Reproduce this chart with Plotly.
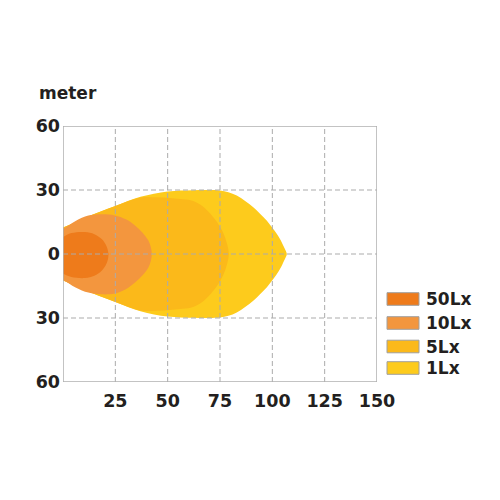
import plotly.graph_objects as go

# ---- data (meters) ----
x_ticks = [25, 50, 75, 100, 125, 150]
x_tick_text = ["25", "50", "75", "100", "125", "150"]
y_ticks = [-60, -30, 0, 30, 60]
y_tick_text = ["60", "30", "0", "30", "60"]

levels = ["50Lx", "10Lx", "5Lx", "1Lx"]
colors = ["#EE7B1B", "#F3963E", "#FBB91A", "#FDCB1C"]

lx1_x = [-3, 0, 10, 25, 37, 50, 62, 70, 75, 79, 83, 87, 90.9, 94, 97.3, 100, 102.1, 104, 105.2, 106.3, 106.9,
         106.3, 105.2, 104, 102.1, 100, 97.3, 94, 90.9, 87, 83, 79, 75, 70, 62, 50, 37, 25, 10, 0, -3]
lx1_y = [11.5, 12.4, 16.8, 22.5, 26.8, 29.3, 29.9, 30, 29.8, 29.0, 27.4, 24.8, 21.9, 19.0, 15.7, 12.3, 9.5, 6.5, 4.0, 1.8, 0,
         -1.8, -4.0, -6.5, -9.5, -12.3, -15.7, -19.0, -21.9, -24.8, -27.4, -29.0, -29.8, -30, -29.9, -29.3, -26.8, -22.5, -16.8, -12.4, -11.5]

lx5_x = [-3, 0, 10, 25, 37, 45, 51, 56, 61, 65.5, 69.5, 73.4, 76.5, 78.3, 79.2,
         78.3, 76.5, 73.4, 69.5, 65.5, 61, 56, 51, 45, 37, 25, 10, 0, -3]
lx5_y = [11.5, 12.4, 16.8, 22.5, 26.5, 26.6, 26.3, 25.8, 25.2, 23.2, 19.8, 15.2, 10, 5, 0,
         -5, -10, -15.2, -19.8, -23.2, -25.2, -25.8, -26.3, -26.6, -26.5, -22.5, -16.8, -12.4, -11.5]

lx10_x = [-3, 0, 6, 12.1, 18.5, 24.8, 30, 34.4, 38, 40.8, 42, 42.4,
          42, 40.8, 38, 34.4, 30, 24.8, 18.5, 12.1, 6, 0, -3]
lx10_y = [10.8, 11.8, 15.5, 18, 18.6, 18.1, 16.3, 13.4, 10, 6.3, 3, 0,
          -3, -6.3, -10, -13.4, -16.5, -18.5, -18.9, -18.1, -15.7, -12.2, -11.2]

lx50_x = [-3, 0, 4, 10.5, 15, 18.5, 20.8, 21.7, 20.8, 18.5, 15, 10.5, 4, 0, -3]
lx50_y = [7, 8, 9.8, 10.3, 9.3, 7.0, 3.6, -0.4, -4.5, -7.8, -10.2, -11.3, -10.8, -9.3, -8]

contours = {
    "1Lx": (lx1_x, lx1_y),
    "5Lx": (lx5_x, lx5_y),
    "10Lx": (lx10_x, lx10_y),
    "50Lx": (lx50_x, lx50_y),
}

FONT = "DejaVu Sans"
TXT = "#231F20"
GRID = "#ABABAB"

fig = go.Figure()
for name in ["1Lx", "5Lx", "10Lx", "50Lx"]:
    cx, cy = contours[name]
    col = colors[levels.index(name)]
    fig.add_trace(go.Scatter(
        x=cx, y=cy, mode="lines", fill="toself", fillcolor=col,
        line=dict(color=col, width=0, shape="spline", smoothing=1.0),
        hoverinfo="skip", showlegend=False, name=name))

shapes = []
for xv in x_ticks[:-1]:
    shapes.append(dict(type="line", xref="x", yref="y", x0=xv, x1=xv, y0=-60, y1=60,
                       line=dict(color=GRID, width=1, dash="5px,3px"), layer="above"))
for yv in y_ticks[1:-1]:
    shapes.append(dict(type="line", xref="x", yref="y", x0=0, x1=150, y0=yv, y1=yv,
                       line=dict(color=GRID, width=1, dash="5px,3px"), layer="above"))
shapes.append(dict(type="rect", xref="x", yref="y", x0=0, x1=150, y0=-60, y1=60,
                   line=dict(color="#B0B0B0", width=1.5), layer="above"))

annotations = [dict(text="<b>meter</b>", x=-0.084, y=(382 - 93) / 256, xref="paper", yref="paper",
                    xanchor="left", yanchor="middle", showarrow=False,
                    font=dict(family=FONT, size=17, color=TXT))]

# legend (manual)
row_centers_px = [299, 323, 346.5, 368]
for lab, col, py in zip(levels, colors, row_centers_px):
    y0 = (382 - (py + 6.3)) / 256
    y1 = (382 - (py - 6.3)) / 256
    shapes.append(dict(type="rect", xref="paper", yref="paper",
                       x0=(387 - 63) / 314, x1=(419 - 63) / 314, y0=y0, y1=y1,
                       fillcolor=col, line=dict(color="#A0A0A0", width=1)))
    annotations.append(dict(text="<b>%s</b>" % lab, x=(424 - 63) / 314, y=(382 - py) / 256,
                            xref="paper", yref="paper", xanchor="left", yanchor="middle",
                            showarrow=False, font=dict(family=FONT, size=17, color=TXT)))

fig.update_layout(
    width=500, height=500,
    margin=dict(l=63, r=123, t=126, b=118),
    paper_bgcolor="white", plot_bgcolor="white",
    shapes=shapes, annotations=annotations,
    xaxis=dict(range=[0, 150], tickvals=x_ticks, ticktext=x_tick_text, showgrid=False,
               zeroline=False, showline=False, ticks="", ticklabelstandoff=6,
               tickfont=dict(family=FONT, size=17.5, color=TXT, weight="bold"), fixedrange=True),
    yaxis=dict(range=[-60, 60], tickvals=y_ticks, ticktext=y_tick_text, showgrid=False,
               zeroline=False, showline=False, ticks="", ticklabelstandoff=2,
               tickfont=dict(family=FONT, size=17.5, color=TXT, weight="bold"), fixedrange=True),
    showlegend=False,
)

fig.write_html("out.html", config={"displayModeBar": False},
               post_script="document.body.style.margin='0px';")
